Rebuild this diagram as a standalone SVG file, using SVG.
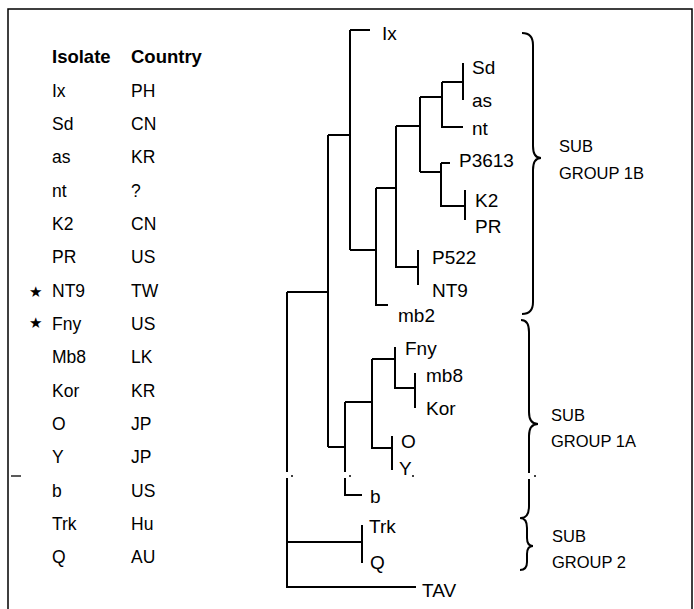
<svg xmlns="http://www.w3.org/2000/svg" width="694" height="609" viewBox="0 0 694 609">
<style>
text{font-family:"Liberation Sans",Arial,sans-serif;fill:#000}
.hd{font-size:18.5px;font-weight:bold}
.tb{font-size:17.5px}
.lf{font-size:19px}
.gp{font-size:16.5px}
.br{fill:none;stroke:#000;stroke-width:2;stroke-linecap:butt}
.st{font-family:"DejaVu Sans",sans-serif;font-size:15px}
#tree path{fill:none;stroke:#000;stroke-width:2}
</style>
<rect width="694" height="609" fill="#fff"/>
<path d="M8,609 V9 H692 V609" fill="none" stroke="#000" stroke-width="1.5"/>
<line x1="11" y1="476" x2="21" y2="476" stroke="#000" stroke-width="1.3"/>
<g id="table">
<text class="hd" x="52" y="63">Isolate</text>
<text class="hd" x="131" y="63">Country</text>
<g class="tb">
<text x="52" y="97">Ix</text><text x="131" y="97">PH</text>
<text x="52" y="130">Sd</text><text x="131" y="130">CN</text>
<text x="52" y="163">as</text><text x="131" y="163">KR</text>
<text x="52" y="197">nt</text><text x="131" y="197">?</text>
<text x="52" y="230">K2</text><text x="131" y="230">CN</text>
<text x="52" y="263">PR</text><text x="131" y="263">US</text>
<text x="52" y="297">NT9</text><text x="131" y="297">TW</text>
<text x="52" y="330">Fny</text><text x="131" y="330">US</text>
<text x="52" y="363">Mb8</text><text x="131" y="363">LK</text>
<text x="52" y="397">Kor</text><text x="131" y="397">KR</text>
<text x="52" y="430">O</text><text x="131" y="430">JP</text>
<text x="52" y="463">Y</text><text x="131" y="463">JP</text>
<text x="52" y="497">b</text><text x="131" y="497">US</text>
<text x="52" y="530">Trk</text><text x="131" y="530">Hu</text>
<text x="52" y="563">Q</text><text x="131" y="563">AU</text>
</g>
<text class="st" x="29" y="297">★</text>
<text class="st" x="29" y="328">★</text>
</g>
<g id="tree">
<path d="M287,292 V472 M287,478 V587 H416"/>
<path d="M287,292 H328 M328,135 V447 M328,135 H350 M350,30 V250 M350,30 H370 M350,250 H376"/>
<path d="M376,188 V305 H388 M376,188 H396 M396,126 V267 H418 M418,250 V285"/>
<path d="M396,126 H420 M420,97 V172 M420,97 H442 M442,82 V127 H463 M442,82 H463 M463,63 V100"/>
<path d="M420,172 H441 M441,163 V206 H465 M441,163 H450 M465,190 V220"/>
<path d="M328,447 H345 M345,402 V472 M345,478 V495 H362 M345,402 H372 M372,359 V448 H392 M392,436 V470"/>
<path d="M372,359 H395 M395,347 V388 H415 M415,373 V408"/>
<path d="M287,542 H362 M362,525 V563"/>
<g fill="#000"><circle cx="292" cy="476" r="1"/><circle cx="350" cy="476" r="1"/><circle cx="413" cy="476" r="1"/><circle cx="535" cy="476" r="1"/></g>
</g>
<g id="leaves" class="lf">
<text x="382" y="40">Ix</text>
<text x="472" y="74">Sd</text>
<text x="472" y="107">as</text>
<text x="472" y="135">nt</text>
<text x="459" y="167">P3613</text>
<text x="475" y="207">K2</text>
<text x="475" y="233">PR</text>
<text x="432" y="264">P522</text>
<text x="432" y="297">NT9</text>
<text x="398" y="322">mb2</text>
<text x="405" y="355">Fny</text>
<text x="426" y="382">mb8</text>
<text x="426" y="415">Kor</text>
<text x="401" y="448">O</text>
<text x="399" y="475">Y</text>
<text x="370" y="503">b</text>
<text x="369" y="533">Trk</text>
<text x="370" y="569">Q</text>
<text x="422" y="597">TAV</text>
</g>
<g id="group1B">
<path class="br" d="M522,33 Q533,33 533,45 V146 Q533,158 541,158 Q533,158 533,170 V302 Q533,314 522,314"/>
<text class="gp" x="559" y="152">SUB</text>
<text class="gp" x="559" y="179">GROUP 1B</text>
</g>
<g id="group1A">
<path class="br" d="M521,320 Q529,320 529,332 V412 Q529,424 538,424 Q529,424 529,436 V473 M529,479 V506 Q529,518 521,518"/>
<text class="gp" x="551" y="421">SUB</text>
<text class="gp" x="551" y="447">GROUP 1A</text>
</g>
<g id="group2">
<path class="br" d="M520,518 Q527,518 527,528 V538 Q527,546 533,546 Q527,546 527,554 V562 Q527,570 520,570"/>
<text class="gp" x="552" y="542">SUB</text>
<text class="gp" x="552" y="568">GROUP 2</text>
</g>
</svg>
